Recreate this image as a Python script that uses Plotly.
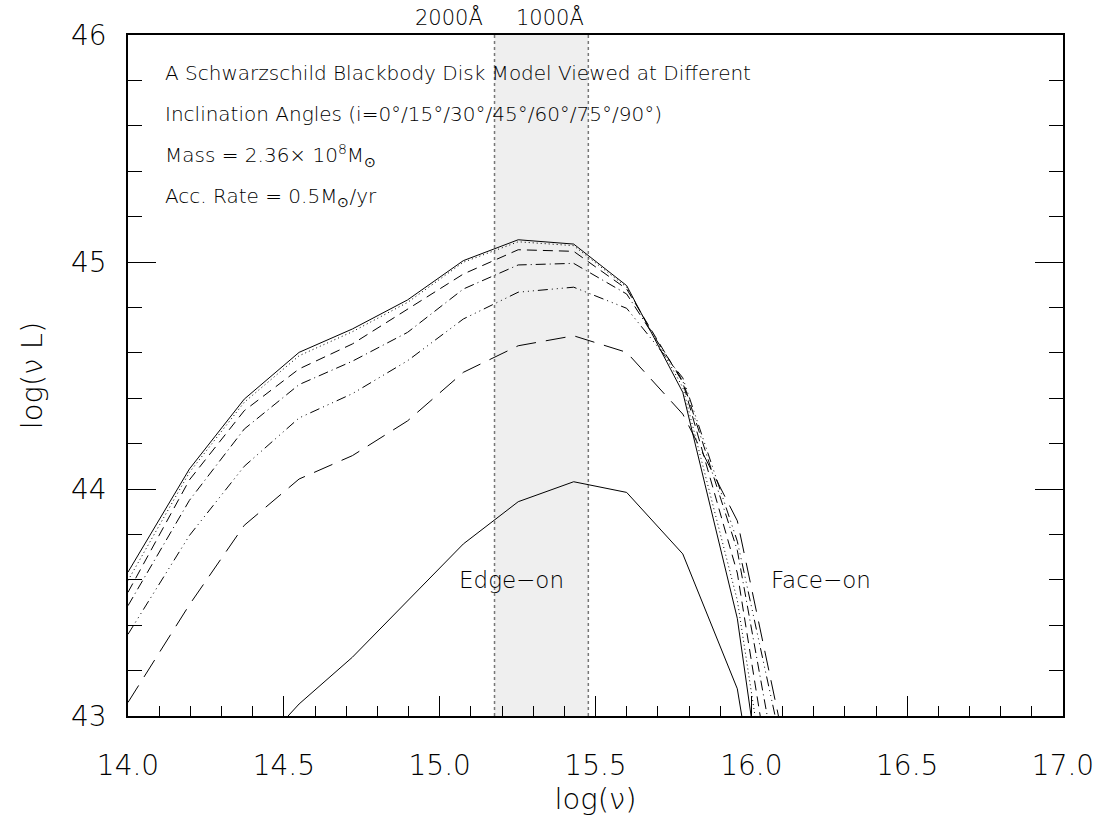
import plotly.graph_objects as go

# log(nu) sampling points of the model SEDs
log_nu = [14.0, 14.197, 14.373, 14.549, 14.72, 14.897, 15.076, 15.252, 15.43, 15.6, 15.78, 15.955, 16.13]

# log(nu L) for each inclination angle
lum_i0  = [43.634, 44.088, 44.396, 44.602, 44.705, 44.833, 45.006, 45.098, 45.079, 44.896, 44.426, 43.43, 41.73]
lum_i15 = [43.597, 44.073, 44.382, 44.587, 44.693, 44.822, 44.999, 45.089, 45.072, 44.889, 44.448, 43.51, 41.94]
lum_i30 = [43.545, 44.040, 44.345, 44.529, 44.639, 44.793, 44.947, 45.054, 45.047, 44.881, 44.470, 43.63, 42.13]
lum_i45 = [43.486, 43.950, 44.264, 44.460, 44.563, 44.690, 44.881, 44.987, 44.994, 44.859, 44.477, 43.73, 42.40]
lum_i60 = [43.360, 43.795, 44.100, 44.313, 44.420, 44.565, 44.749, 44.867, 44.889, 44.796, 44.490, 43.77, 42.66]
lum_i75 = [43.060, 43.490, 43.840, 44.044, 44.147, 44.300, 44.514, 44.631, 44.675, 44.602, 44.330, 43.86, 42.72]
lum_i90 = [None, None, 42.79, 43.053, 43.259, 43.508, 43.758, 43.944, 44.032, 43.985, 43.714, 43.12, 41.66]

series = [
    ("i=0°", lum_i0, "solid"),
    ("i=15°", lum_i15, "1px,3px"),
    ("i=30°", lum_i30, "10px,6px"),
    ("i=45°", lum_i45, "10px,4px,1px,4px"),
    ("i=60°", lum_i60, "10px,4px,1px,4px,1px,4px,1px,4px"),
    ("i=75°", lum_i75, "20px,10px"),
    ("i=90°", lum_i90, "solid"),
]

# UV band edges: 2000 A and 1000 A
band_lo = 15.176
band_hi = 15.477
band_labels = ["2000Å", "1000Å"]
band_label_x = [15.03, 15.355]

x_ticks = [14.0, 14.5, 15.0, 15.5, 16.0, 16.5, 17.0]
y_ticks = [43, 44, 45, 46]

FONT = "DejaVu Sans"
W = 200

fig = go.Figure()

for name, ys, dash in series:
    fig.add_trace(go.Scatter(
        x=log_nu, y=ys, mode="lines", name=name,
        line=dict(color="black", width=1, dash=dash),
        connectgaps=False, showlegend=False,
    ))

fig.add_shape(type="rect", xref="x", yref="paper", x0=band_lo, x1=band_hi, y0=0, y1=1,
              fillcolor="#efefef", line=dict(width=0), layer="below")
for xv in (band_lo, band_hi):
    fig.add_shape(type="line", xref="x", yref="paper", x0=xv, x1=xv, y0=0, y1=1,
                  line=dict(color="#777777", width=1.5, dash="dot"), layer="below")

for lab, xv in zip(band_labels, band_label_x):
    fig.add_annotation(x=xv, y=1.0, xref="x", yref="paper", text=lab, showarrow=False,
                       yanchor="bottom", yshift=3, font=dict(family=FONT, size=21, color="black", weight=W))

info_lines = [
    "A Schwarzschild Blackbody Disk Model Viewed at Different",
    "Inclination Angles (i=0°/15°/30°/45°/60°/75°/90°)",
    "Mass = 2.36× 10<sup>8</sup>M<sub>⊙</sub>",
    "Acc. Rate = 0.5M<sub>⊙</sub>/yr",
]
info_y = [45.833, 45.652, 45.471, 45.286]
for t, yv in zip(info_lines, info_y):
    fig.add_annotation(x=14.112, y=yv, xref="x", yref="y", text=t, showarrow=False,
                       xanchor="left", yanchor="middle",
                       font=dict(family=FONT, size=20, color="black", weight=W))

fig.add_annotation(x=15.232, y=43.6, text="Edge−on", showarrow=False,
                   font=dict(family=FONT, size=23, color="black", weight=W))
fig.add_annotation(x=16.224, y=43.6, text="Face−on", showarrow=False,
                   font=dict(family=FONT, size=23, color="black", weight=W))

fig.update_layout(
    width=1106, height=824,
    margin=dict(l=128, r=43, t=35, b=108),
    paper_bgcolor="white", plot_bgcolor="white",
    font=dict(family=FONT, color="black"),
)
fig.update_xaxes(
    range=[14.0, 17.0], tickvals=x_ticks, ticktext=[f"{v:.1f}" for v in x_ticks],
    ticks="inside", ticklen=20, tickwidth=1, tickcolor="black",
    minor=dict(dtick=0.1, ticks="inside", ticklen=10, tickwidth=1, tickcolor="black", showgrid=False),
    showline=True, linecolor="black", linewidth=1.5, mirror=True,
    showgrid=False, zeroline=False,
    tickfont=dict(family=FONT, size=28, weight=W), ticklabelstandoff=24,
    title=dict(text="log(ν)", font=dict(family=FONT, size=29, weight=W), standoff=2),
)
fig.update_yaxes(
    range=[43.0, 46.0], tickvals=y_ticks, ticktext=[str(v) for v in y_ticks],
    ticks="inside", ticklen=28, tickwidth=1, tickcolor="black",
    minor=dict(dtick=0.2, ticks="inside", ticklen=14, tickwidth=1, tickcolor="black", showgrid=False),
    showline=True, linecolor="black", linewidth=1.5, mirror="ticks",
    showgrid=False, zeroline=False,
    tickfont=dict(family=FONT, size=28, weight=W), ticklabelstandoff=14,
    title=dict(text="log(ν L)", font=dict(family=FONT, size=29, weight=W), standoff=20),
)

fig.write_html("out.html")
